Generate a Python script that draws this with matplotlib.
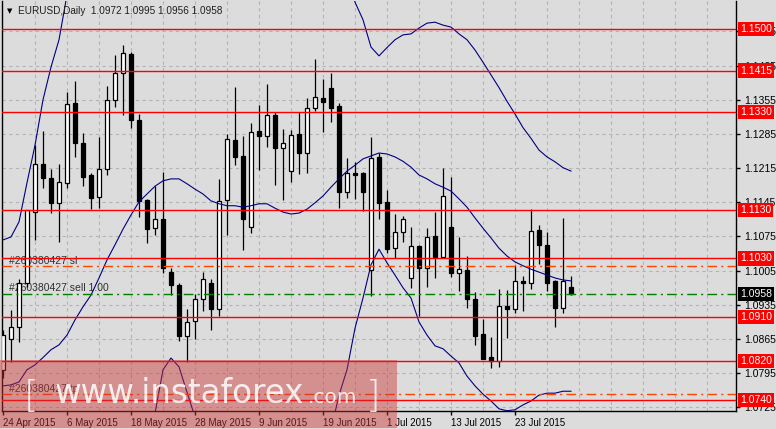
import matplotlib.pyplot as plt
from matplotlib.patches import Rectangle
import numpy as np

# EURUSD daily bars, 24 Apr 2015 .. 3 Aug 2015 (bar index = position on x axis)
opens = [1.0802, 1.0865, 1.0890, 1.0980, 1.1125, 1.1224, 1.1195, 1.1144, 1.1185, 1.1348,
         1.1266, 1.1201, 1.1156, 1.1213, 1.1355, 1.1410, 1.1449, 1.1314, 1.1150, 1.1092,
         1.1111, 1.1002, 1.0976, 1.0871, 1.0902, 1.0947, 1.0980, 1.0926, 1.1150, 1.1273,
         1.1240, 1.1094, 1.1291, 1.1281, 1.1324, 1.1256, 1.1209, 1.1285, 1.1246, 1.1338,
         1.1359, 1.1379, 1.1342, 1.1166, 1.1205, 1.1205, 1.1006, 1.1238, 1.1146, 1.1051,
         1.1084, 1.0990, 1.1056, 1.1010, 1.1076, 1.1033, 1.1094, 1.1000, 1.1006, 1.0947,
         1.0875, 1.0828, 1.0820, 1.0933, 1.0926, 1.0984, 1.0980, 1.1088, 1.1058, 1.0984,
         1.0929, 1.0972]
highs = [1.0883, 1.0924, 1.0988, 1.1129, 1.1262, 1.1291, 1.1213, 1.1224, 1.1371, 1.1394,
         1.1287, 1.1205, 1.1279, 1.1383, 1.1447, 1.1467, 1.1452, 1.1326, 1.1152, 1.1178,
         1.1207, 1.1010, 1.0980, 1.0926, 1.0957, 1.1002, 1.0988, 1.1193, 1.1285, 1.1381,
         1.1281, 1.1307, 1.1344, 1.1387, 1.1330, 1.1295, 1.1293, 1.1330, 1.1359, 1.1439,
         1.1398, 1.1410, 1.1348, 1.1236, 1.1228, 1.1207, 1.1279, 1.1246, 1.1170, 1.1121,
         1.1117, 1.1094, 1.1058, 1.1092, 1.1125, 1.1215, 1.1197, 1.1074, 1.1035, 1.0961,
         1.0906, 1.0869, 1.0967, 1.0965, 1.1017, 1.0994, 1.1131, 1.1099, 1.1084, 1.0986,
         1.1113, 1.0995]
lows = [1.0785, 1.0818, 1.0859, 1.0971, 1.1068, 1.1174, 1.1123, 1.1064, 1.1174, 1.1238,
        1.1178, 1.1131, 1.1133, 1.1201, 1.1340, 1.1324, 1.1297, 1.1115, 1.1062, 1.1078,
        1.1000, 1.0955, 1.0861, 1.0818, 1.0865, 1.0922, 1.0883, 1.0912, 1.1078, 1.1221,
        1.1047, 1.1082, 1.1211, 1.1258, 1.1180, 1.1150, 1.1187, 1.1203, 1.1205, 1.1332,
        1.1289, 1.1310, 1.1133, 1.1154, 1.1152, 1.1127, 1.0953, 1.1111, 1.1041, 1.1031,
        1.1064, 1.0969, 1.0912, 1.0971, 1.0990, 1.1031, 1.0992, 1.0963, 1.0929, 1.0853,
        1.0824, 1.0806, 1.0808, 1.0867, 1.0918, 1.0922, 1.0967, 1.1019, 1.0963, 1.0890,
        1.0918, 1.0956]
closes = [1.0873, 1.0890, 1.0980, 1.1129, 1.1224, 1.1195, 1.1144, 1.1187, 1.1346, 1.1266,
          1.1197, 1.1154, 1.1213, 1.1355, 1.1410, 1.1451, 1.1314, 1.1148, 1.1090, 1.1111,
          1.1010, 1.0976, 1.0871, 1.0900, 1.0947, 1.0988, 1.0926, 1.1148, 1.1275, 1.1238,
          1.1111, 1.1289, 1.1281, 1.1324, 1.1256, 1.1266, 1.1283, 1.1246, 1.1338, 1.1361,
          1.1351, 1.1338, 1.1166, 1.1205, 1.1201, 1.1166, 1.1236, 1.1144, 1.1049, 1.1084,
          1.1111, 1.1056, 1.1010, 1.1074, 1.1033, 1.1158, 1.1000, 1.1008, 1.0947, 1.0871,
          1.0824, 1.0820, 1.0933, 1.0926, 1.0984, 1.0980, 1.1086, 1.1058, 1.0980, 1.0929,
          1.0984, 1.0958]

date_ticks = [0, 8, 16, 24, 32, 40, 48, 56, 64]
date_labels = ['24 Apr 2015', '6 May 2015', '18 May 2015', '28 May 2015', '9 Jun 2015',
               '19 Jun 2015', '1 Jul 2015', '13 Jul 2015', '23 Jul 2015']

# Bollinger bands (20); segments leave the price window
bb_mid = [1.0769, 1.0771, 1.0777, 1.0802, 1.0812, 1.0827, 1.0843, 1.0853, 1.0873, 1.0904,
          1.0931, 1.0955, 1.0990, 1.1027, 1.1058, 1.1090, 1.1119, 1.1146, 1.1162, 1.1178,
          1.1189, 1.1193, 1.1193, 1.1183, 1.1172, 1.1162, 1.1148, 1.1142, 1.1138, 1.1138,
          1.1135, 1.1138, 1.1142, 1.1142, 1.1133, 1.1125, 1.1121, 1.1123, 1.1131, 1.1144,
          1.1158, 1.1176, 1.1193, 1.1209, 1.1221, 1.1234, 1.1240, 1.1246, 1.1244, 1.1238,
          1.1229, 1.1217, 1.1201, 1.1193, 1.1183, 1.1176, 1.1168, 1.1152, 1.1135, 1.1113,
          1.1092, 1.1072, 1.1051, 1.1035, 1.1023, 1.1015, 1.1008, 1.1002, 1.0996, 1.0990,
          1.0986, 1.0984]
bb_up1_x = [0, 1, 2, 3, 4, 5, 6, 7, 8, 9]
bb_up1 = [1.1068, 1.1074, 1.1105, 1.1185, 1.1262, 1.1355, 1.1422, 1.1478, 1.1570, 1.1660]
bb_up2_x = [42, 43, 44, 45, 46, 47, 48, 49, 50, 51, 52, 53, 54, 55, 56, 57, 58, 59, 60,
            61, 62, 63, 64, 65, 66, 67, 68, 69, 70, 71]
bb_up2 = [1.1636, 1.1616, 1.1555, 1.1519, 1.1463, 1.1445, 1.1462, 1.1478, 1.1488, 1.1490,
          1.1502, 1.1512, 1.1514, 1.1508, 1.1504, 1.1490, 1.1478, 1.1457, 1.1432, 1.1406,
          1.1380, 1.1352, 1.1326, 1.1298, 1.1276, 1.1252, 1.1238, 1.1228, 1.1216, 1.1209]
bb_lo1_x = [18, 19, 20, 21, 22, 23, 24, 25]
bb_lo1 = [1.0640, 1.0713, 1.0802, 1.0826, 1.0808, 1.0756, 1.0705, 1.0640]
bb_lo2_x = [41, 42, 43, 44, 45, 46, 47, 48, 49, 50, 51, 52, 53, 54, 55, 56, 57, 58, 59,
            60, 61, 62, 63, 64, 65, 66, 67, 68, 69, 70, 71]
bb_lo2 = [1.0679, 1.0750, 1.0802, 1.0887, 1.0949, 1.1017, 1.1049, 1.1021, 1.0996, 1.0970,
          1.0949, 1.0900, 1.0873, 1.0851, 1.0845, 1.0830, 1.0816, 1.0789, 1.0769, 1.0752,
          1.0738, 1.0722, 1.0718, 1.0720, 1.0730, 1.0738, 1.0750, 1.0754, 1.0754, 1.0758,
          1.0758]

levels = [1.1500, 1.1415, 1.1330, 1.1130, 1.1030, 1.0910, 1.0820, 1.0740]
order_sl = 1.1014
order_open = 1.0958
order_tp = 1.0752
last_price = 1.0958
grid_prices = [1.0725, 1.0795, 1.0865, 1.0935, 1.1005, 1.1075, 1.1145, 1.1215,
               1.1285, 1.1355, 1.1425, 1.1495]

W, H = 776, 429
BG = '#dcdcdc'
plt.rcParams['font.family'] = ['Liberation Sans', 'DejaVu Sans']

fig = plt.figure(figsize=(W / 100, H / 100), dpi=100, facecolor=BG)
ax = fig.add_axes([2 / W, 1 - 411 / H, 734 / W, 410 / H], facecolor=BG)
ax.set_xlim(-0.125, 91.625)
ax.set_ylim(1.07175, 1.15574)

# grid
for g in grid_prices:
    ax.axhline(g, color='#b4b4b4', lw=0.8, ls=(0, (3, 3)), zorder=0)
for v in range(4, 92, 4):
    ax.axvline(v, color='#b4b4b4', lw=0.8, ls=(0, (3, 3)), zorder=0)

# order labels (behind candles)
lab_kw = dict(fontsize=7.5, color='#303030', ha='left', va='bottom', zorder=1)
ax.text(0.75, order_sl + 0.0001, '#260380427 sl', **lab_kw)
ax.text(0.75, order_open + 0.0001, '#260380427 sell 1.00', **lab_kw)
ax.text(0.75, order_tp + 0.0001, '#260380427 tp', **lab_kw)

# candles
x = np.arange(len(opens))
o, h, l, c = map(np.array, (opens, highs, lows, closes))
up = c >= o
ax.vlines(x, l, h, color='black', lw=0.9, zorder=2)
ax.bar(x[up], (c - o)[up], bottom=o[up], width=0.6, color='white',
       edgecolor='black', linewidth=0.9, zorder=3)
ax.bar(x[~up], (o - c)[~up], bottom=c[~up], width=0.6, color='black',
       edgecolor='black', linewidth=0.9, zorder=3)

# bollinger bands
band_kw = dict(color='#000080', lw=0.8, zorder=4)
ax.plot(x, bb_mid, **band_kw)
ax.plot(bb_up1_x, bb_up1, **band_kw)
ax.plot(bb_up2_x, bb_up2, **band_kw)
ax.plot(bb_lo1_x, bb_lo1, **band_kw)
ax.plot(bb_lo2_x, bb_lo2, **band_kw)

# horizontal levels
for lv in levels:
    ax.axhline(lv, color='#ff0000', lw=1.0, zorder=5)
ax.axhline(order_sl, color='#ff4500', lw=1.0, ls=(0, (7, 3, 1.5, 3)), zorder=5)
ax.axhline(order_tp, color='#ff4500', lw=1.0, ls=(0, (7, 3, 1.5, 3)), zorder=5)
ax.axhline(order_open, color='#008000', lw=1.0, ls=(0, (7, 3, 1.5, 3)), zorder=5)

# axes styling
for s in ('left', 'right', 'bottom'):
    ax.spines[s].set_color('black')
    ax.spines[s].set_linewidth(1.0)
ax.spines['top'].set_visible(False)
ax.yaxis.tick_right()
ax.set_yticks(grid_prices)
ax.set_yticklabels([f'{g:.4f}' for g in grid_prices])
ax.set_xticks(date_ticks)
ax.set_xticklabels(date_labels, ha='left')
ax.tick_params(axis='y', direction='out', length=3, width=1, pad=3, labelsize=7.5)
ax.tick_params(axis='x', direction='out', length=3, width=1, pad=2, labelsize=7)

# right-side price boxes
box_kw = dict(xycoords=('axes fraction', 'data'), xytext=(4, 0), textcoords='offset pixels',
              va='center', ha='left', fontsize=7.5, color='white', annotation_clip=False,
              zorder=6)
for lv in levels:
    ax.annotate(f'{lv:.4f}', xy=(1, lv),
                bbox=dict(boxstyle='square,pad=0.2', fc='#ff0000', ec='none'), **box_kw)
ax.annotate(f'{last_price:.4f}', xy=(1, last_price),
            bbox=dict(boxstyle='square,pad=0.2', fc='black', ec='none'), **box_kw)

# title
fig.text(7 / W, 1 - 11 / H, '\u25bc', fontsize=5, va='center', ha='left', color='black',
         family=['DejaVu Sans'])
fig.text(18 / W, 1 - 11 / H, 'EURUSD,Daily  1.0972 1.0995 1.0956 1.0958',
         fontsize=7.2, va='center', ha='left', color='#202020')

# watermark
fig.add_artist(Rectangle((0, 1 - 428 / H), 397 / W, 68 / H, transform=fig.transFigure,
                         facecolor=(0.8, 0.2, 0.2), alpha=0.45, edgecolor='none', zorder=10))
wm = dict(color='white', alpha=0.85, va='baseline', ha='left', zorder=11,
          family=['DejaVu Sans'])
fig.text(24 / W, 1 - 407 / H, '[', fontsize=27, weight='light', **wm)
fig.text(55 / W, 1 - 403 / H, 'www.instaforex', fontsize=23.5, **wm)
fig.text(308 / W, 1 - 403 / H, '.com', fontsize=14.5, **wm)
fig.text(366 / W, 1 - 407 / H, ']', fontsize=27, weight='light', **wm)

fig.savefig('out.png', dpi=100, facecolor=BG)
